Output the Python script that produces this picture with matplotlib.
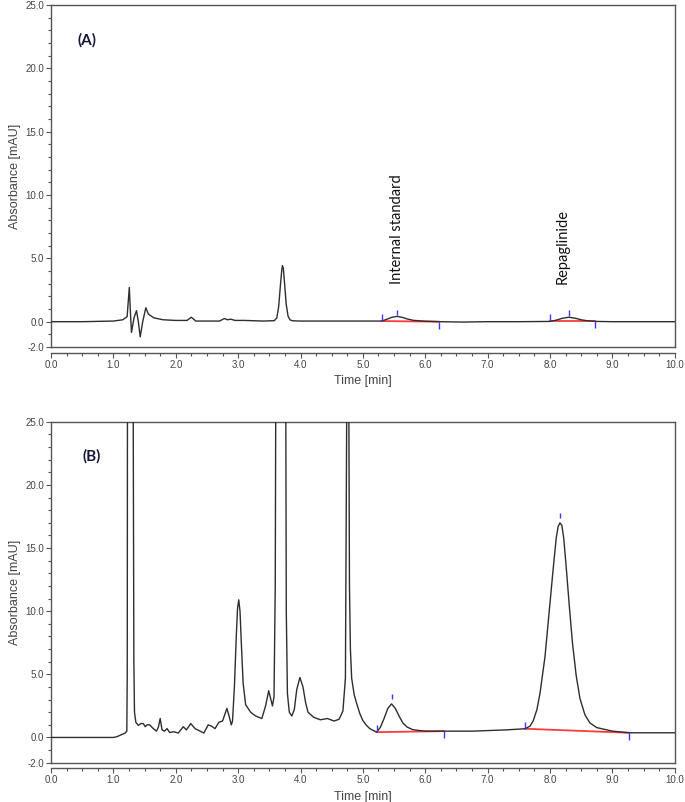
import matplotlib
matplotlib.use("Agg")
import matplotlib.pyplot as plt
from matplotlib.ticker import MultipleLocator, FixedLocator, FormatStrFormatter

# ---- chromatogram (A) ----
time_a = [0.0, 0.5, 1.0, 1.15, 1.22, 1.255, 1.275, 1.29, 1.33, 1.37, 1.40, 1.43, 1.47,
          1.52, 1.56, 1.65, 1.8, 2.0, 2.18, 2.25, 2.32, 2.5, 2.7, 2.78, 2.83, 2.88,
          2.95, 3.1, 3.4, 3.58, 3.62, 3.65, 3.68, 3.70, 3.71, 3.725, 3.745, 3.77, 3.80,
          3.83, 3.87, 4.0, 4.5, 5.0, 5.3, 5.38, 5.46, 5.55, 5.64, 5.72, 5.82, 6.0, 6.22,
          6.6, 7.0, 7.5, 8.0, 8.1, 8.2, 8.3, 8.4, 8.5, 8.6, 8.75, 9.0, 9.5, 10.0]
abs_a = [0.0, 0.0, 0.05, 0.15, 0.4, 2.7, 0.5, -0.85, 0.3, 0.87, 0.0, -1.2, 0.0,
         1.1, 0.6, 0.3, 0.15, 0.1, 0.1, 0.35, 0.05, 0.05, 0.05, 0.25, 0.15, 0.2,
         0.1, 0.1, 0.05, 0.08, 0.3, 1.2, 3.0, 4.1, 4.43, 4.2, 3.0, 1.4, 0.45,
         0.15, 0.07, 0.05, 0.05, 0.05, 0.05, 0.18, 0.34, 0.42, 0.33, 0.2, 0.1, 0.04, 0.0,
         -0.03, 0.0, 0.0, 0.02, 0.12, 0.27, 0.35, 0.28, 0.15, 0.07, 0.02, 0.0, 0.0, 0.0]

# ---- chromatogram (B) ----
time_b = [0.0, 0.5, 1.0, 1.05, 1.12, 1.19, 1.215, 1.222, 1.226, 1.27, 1.31, 1.318, 1.328,
          1.338, 1.36, 1.40, 1.44, 1.48, 1.51, 1.54, 1.58, 1.64, 1.69, 1.72, 1.75, 1.78,
          1.82, 1.86, 1.90, 1.97, 2.04, 2.12, 2.17, 2.24, 2.31, 2.37, 2.45, 2.52, 2.57,
          2.63, 2.69, 2.75, 2.82, 2.86, 2.89, 2.91, 2.94, 2.97, 2.99, 3.01, 3.03, 3.05,
          3.08, 3.12, 3.2, 3.28, 3.38, 3.44, 3.49, 3.52, 3.55, 3.575, 3.595, 3.605, 3.68,
          3.762, 3.772, 3.79, 3.82, 3.86, 3.90, 3.94, 3.99, 4.04, 4.08, 4.12, 4.21, 4.32,
          4.43, 4.54, 4.62, 4.68, 4.72, 4.745, 4.765, 4.785, 4.80, 4.82, 4.86, 4.9, 4.95,
          5.0, 5.05, 5.11, 5.22, 5.28, 5.34, 5.40, 5.46, 5.52, 5.58, 5.64, 5.71, 5.8,
          5.9, 6.0, 6.22, 6.76, 7.3, 7.6, 7.68, 7.73, 7.79, 7.84, 7.92, 7.98, 8.05, 8.10,
          8.13, 8.16, 8.19, 8.22, 8.26, 8.31, 8.36, 8.42, 8.48, 8.56, 8.64, 8.75, 9.0,
          9.27, 10.0]
abs_b = [0.0, 0.0, 0.0, 0.05, 0.2, 0.35, 0.5, 5.0, 30.0, 50.0, 40.0, 25.0, 6.0,
         2.0, 1.2, 0.95, 1.1, 1.1, 0.85, 1.0, 1.0, 0.7, 0.5, 0.8, 1.5, 0.6,
         0.5, 0.7, 0.4, 0.45, 0.35, 0.85, 0.6, 1.1, 0.7, 0.55, 0.35, 1.0, 0.9,
         0.7, 1.2, 1.3, 2.3, 1.6, 1.0, 1.3, 4.0, 8.0, 10.2, 10.9, 10.0, 7.6,
         4.3, 2.6, 2.0, 1.7, 1.5, 2.5, 3.7, 3.1, 2.5, 3.2, 12.0, 30.0, 50.0,
         30.0, 10.0, 3.5, 2.0, 1.7, 2.2, 3.8, 4.75, 4.0, 2.8, 2.0, 1.6, 1.4,
         1.5, 1.3, 1.45, 2.1, 4.7, 30.0, 40.0, 12.0, 7.0, 4.7, 3.4, 2.7, 1.9,
         1.34, 1.0, 0.7, 0.42, 0.8, 1.5, 2.3, 2.66, 2.3, 1.7, 1.15, 0.82, 0.62,
         0.55, 0.5, 0.5, 0.5, 0.6, 0.69, 0.9, 1.3, 2.2, 3.5, 6.4, 9.6, 13.3, 15.8,
         16.7, 17.0, 16.8, 15.8, 13.5, 10.4, 7.5, 4.9, 3.1, 1.8, 1.15, 0.78, 0.5,
         0.37, 0.37]

# integration events: [internal standard, repaglinide]
a_start_t, a_start_y = [5.30, 8.00], [0.05, 0.02]
a_apex_t, a_apex_y = [5.55, 8.30], [0.42, 0.35]
a_end_t, a_end_y = [6.22, 8.72], [0.00, 0.02]

b_start_t, b_start_y = [5.22, 7.60], [0.42, 0.69]
b_apex_t, b_apex_y = [5.46, 8.16], [2.66, 17.0]
b_end_t, b_end_y = [6.30, 9.27], [0.50, 0.37]

peak_names = ["Internal standard", "Repaglinide"]
peak_label_t = [5.54, 8.20]

x_major = [0, 1, 2, 3, 4, 5, 6, 7, 8, 9, 10]
y_major = [-2, 0, 5, 10, 15, 20, 25]

frame_col = "#555555"
text_col = "#444444"
trace_col = "#2e2e2e"
blue = "#3a3aff"
red = "#ff3b3b"

plt.rcParams["font.family"] = ["Liberation Sans", "DejaVu Sans"]


def style_axes(ax):
    ax.set_xlim(0, 10)
    ax.set_ylim(-2, 25)
    ax.xaxis.set_major_locator(FixedLocator(x_major))
    ax.xaxis.set_minor_locator(MultipleLocator(0.25))
    ax.yaxis.set_major_locator(FixedLocator(y_major))
    ax.yaxis.set_minor_locator(MultipleLocator(1))
    ax.xaxis.set_major_formatter(FormatStrFormatter("%.1f"))
    ax.yaxis.set_major_formatter(FormatStrFormatter("%.1f"))
    ax.tick_params(which="both", direction="out", colors=frame_col, labelcolor=text_col,
                   labelsize=7, width=0.8)
    ax.tick_params(which="major", length=3.5, pad=1.5)
    ax.tick_params(which="minor", length=2.2)
    for s in ax.spines.values():
        s.set_color(frame_col)
        s.set_linewidth(1.0)
    # x axis sits a little below the frame
    ax.spines["bottom"].set_position(("outward", 4))
    ax.plot([0, 1], [0, 0], transform=ax.transAxes, color=frame_col, lw=1.0, clip_on=False)
    ax.set_xlabel("Time [min]", fontsize=9, color=text_col, labelpad=4)
    ax.set_ylabel("Absorbance [mAU]", fontsize=9, color=text_col, labelpad=3)


def draw_events(ax, st, sy, at, ay, et, ey, tick_len, apex_gap):
    for i in range(len(st)):
        ax.plot([st[i], et[i]], [sy[i], ey[i]], color=red, lw=1.3, zorder=2)
    ax.vlines(st, sy, [v + tick_len for v in sy], color=blue, lw=1.0, zorder=4)
    ax.vlines(at, [v + apex_gap for v in ay], [v + apex_gap + tick_len * 0.8 for v in ay],
              color=blue, lw=1.0, zorder=4)
    ax.vlines(et, [v - tick_len for v in ey], ey, color=blue, lw=1.0, zorder=4)


fig = plt.figure(figsize=(6.85, 8.02), dpi=100)
ax_a = fig.add_axes([0.0745, 0.5673, 0.9105, 0.4265])
ax_b = fig.add_axes([0.0745, 0.0490, 0.9105, 0.4250])

# panel A
ax_a.plot(time_a, abs_a, color=trace_col, lw=1.0, zorder=3)
draw_events(ax_a, a_start_t, a_start_y, a_apex_t, a_apex_y, a_end_t, a_end_y, 0.55, 0.1)
style_axes(ax_a)
ax_a.text(0.043, 22.2, "(A)", fontsize=11, fontweight="bold", color="#15153a",
          family=["Lato", "DejaVu Sans"], va="center", ha="left",
          transform=ax_a.get_yaxis_transform())
for name, t in zip(peak_names, peak_label_t):
    ax_a.text(t, 3.0, name, rotation=90, fontsize=10.5, color="#111111",
              family=["Lato", "DejaVu Sans"], ha="center", va="bottom")

# panel B
ax_b.plot(time_b, abs_b, color=trace_col, lw=1.0, zorder=3)
draw_events(ax_b, b_start_t, b_start_y, b_apex_t, b_apex_y, b_end_t, b_end_y, 0.55, 0.35)
style_axes(ax_b)
ax_b.text(0.05, 22.3, "(B)", fontsize=11, fontweight="bold", color="#15153a",
          family=["Lato", "DejaVu Sans"], va="center", ha="left",
          transform=ax_b.get_yaxis_transform())

plt.savefig("out.png", dpi=100)
